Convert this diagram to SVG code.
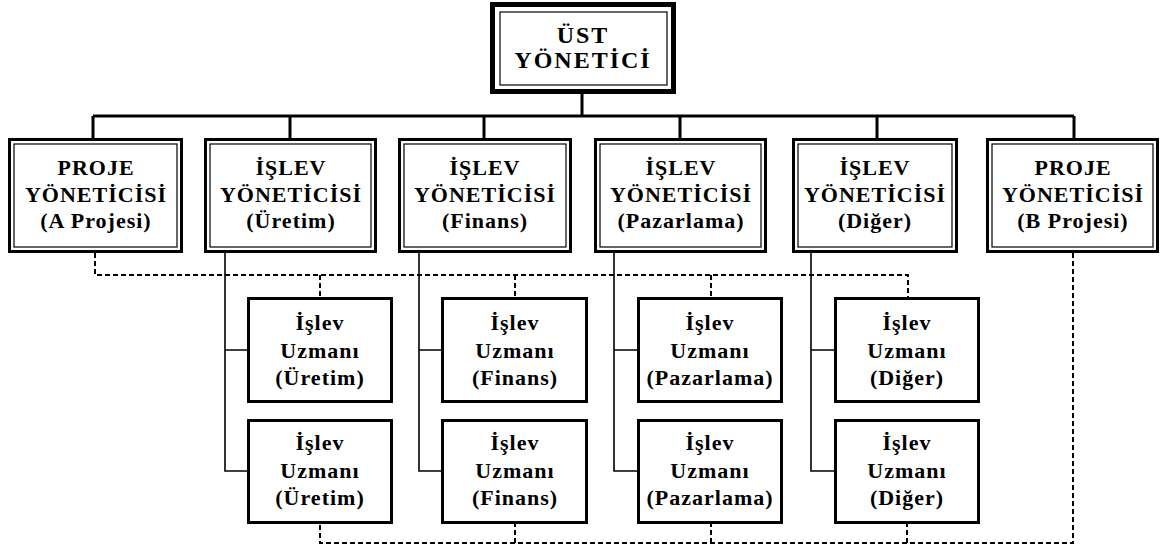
<svg xmlns="http://www.w3.org/2000/svg" width="1170" height="552" viewBox="0 0 1170 552">
<style>
.o{fill:#fff;stroke:#000;stroke-width:3}
.i{fill:none;stroke:#000;stroke-width:1.2}
.u{fill:#fff;stroke:#000;stroke-width:3}
.t{font-family:"Liberation Serif","Times New Roman",serif;font-weight:bold;font-size:22px;letter-spacing:1px;text-anchor:middle;fill:#000}
.tt{font-size:24px;letter-spacing:2px}
.s{fill:none;stroke:#000;stroke-width:3}
.n{fill:none;stroke:#000;stroke-width:1.6}
.d{fill:none;stroke:#000;stroke-width:2;stroke-dasharray:5 3}
</style>
<rect width="1170" height="552" fill="#fff"/>
<g id="connectors">
<path class="s" d="M582 94V116M93 116H1074M93 116V138M290 116V138M484 116V138M680 116V138M877 116V138M1074 116V138"/>
<path class="n" d="M225 253V471H247M225 350H247M419 253V471H441M419 350H441M614 253V471H637M614 350H637M811 253V471H834M811 350H834"/>
<path class="d" d="M95 253V275H908V297M320 275V297M515 275V297M711 275V297"/>
<path class="d" d="M1073 253V543H320V524M515 543V524M711 543V524M907 543V524"/>
</g>
<g id="ust">
<rect x="492.5" y="4.5" width="181" height="87" fill="#fff" stroke="#000" stroke-width="5"/>
<rect x="500" y="12" width="167" height="73" class="i" stroke-width="1.5"/>
<text class="t tt" x="583" y="43">ÜST</text>
<text class="t tt" x="583" y="68">YÖNETİCİ</text>
</g>
<g id="projeA">
<rect class="o" x="9.5" y="139.5" width="172" height="112"/>
<rect class="i" x="14" y="144" width="163" height="103"/>
<text class="t" x="96" y="175">PROJE</text>
<text class="t" x="96" y="202">YÖNETİCİSİ</text>
<text class="t" x="96" y="228">(A Projesi)</text>
</g>
<g id="islevUretim">
<rect class="o" x="205.5" y="139.5" width="170" height="112"/>
<rect class="i" x="210" y="144" width="161" height="103"/>
<text class="t" x="291" y="175">İŞLEV</text>
<text class="t" x="291" y="202">YÖNETİCİSİ</text>
<text class="t" x="291" y="228">(Üretim)</text>
</g>
<g id="islevFinans">
<rect class="o" x="399.5" y="139.5" width="171" height="112"/>
<rect class="i" x="404" y="144" width="162" height="103"/>
<text class="t" x="485" y="175">İŞLEV</text>
<text class="t" x="485" y="202">YÖNETİCİSİ</text>
<text class="t" x="485" y="228">(Finans)</text>
</g>
<g id="islevPazarlama">
<rect class="o" x="595.5" y="139.5" width="170" height="112"/>
<rect class="i" x="600" y="144" width="161" height="103"/>
<text class="t" x="681" y="175">İŞLEV</text>
<text class="t" x="681" y="202">YÖNETİCİSİ</text>
<text class="t" x="681" y="228">(Pazarlama)</text>
</g>
<g id="islevDiger">
<rect class="o" x="793.5" y="139.5" width="163" height="112"/>
<rect class="i" x="798" y="144" width="154" height="103"/>
<text class="t" x="875" y="175">İŞLEV</text>
<text class="t" x="875" y="202">YÖNETİCİSİ</text>
<text class="t" x="875" y="228">(Diğer)</text>
</g>
<g id="projeB">
<rect class="o" x="987.5" y="139.5" width="170" height="112"/>
<rect class="i" x="992" y="144" width="161" height="103"/>
<text class="t" x="1073" y="175">PROJE</text>
<text class="t" x="1073" y="202">YÖNETİCİSİ</text>
<text class="t" x="1073" y="228">(B Projesi)</text>
</g>
<g id="uzmanUretim1">
<rect class="u" x="248.5" y="298.5" width="143" height="103"/>
<text class="t" x="320" y="330">İşlev</text>
<text class="t" x="320" y="358">Uzmanı</text>
<text class="t" x="320" y="385">(Üretim)</text>
</g>
<g id="uzmanUretim2">
<rect class="u" x="248.5" y="420.5" width="143" height="102"/>
<text class="t" x="320" y="450">İşlev</text>
<text class="t" x="320" y="478">Uzmanı</text>
<text class="t" x="320" y="505">(Üretim)</text>
</g>
<g id="uzmanFinans1">
<rect class="u" x="442.5" y="298.5" width="144" height="103"/>
<text class="t" x="515" y="330">İşlev</text>
<text class="t" x="515" y="358">Uzmanı</text>
<text class="t" x="515" y="385">(Finans)</text>
</g>
<g id="uzmanFinans2">
<rect class="u" x="442.5" y="420.5" width="144" height="102"/>
<text class="t" x="515" y="450">İşlev</text>
<text class="t" x="515" y="478">Uzmanı</text>
<text class="t" x="515" y="505">(Finans)</text>
</g>
<g id="uzmanPazarlama1">
<rect class="u" x="638.5" y="298.5" width="143" height="103"/>
<text class="t" x="710" y="330">İşlev</text>
<text class="t" x="710" y="358">Uzmanı</text>
<text class="t" x="710" y="385">(Pazarlama)</text>
</g>
<g id="uzmanPazarlama2">
<rect class="u" x="638.5" y="420.5" width="143" height="102"/>
<text class="t" x="710" y="450">İşlev</text>
<text class="t" x="710" y="478">Uzmanı</text>
<text class="t" x="710" y="505">(Pazarlama)</text>
</g>
<g id="uzmanDiger1">
<rect class="u" x="835.5" y="298.5" width="143" height="103"/>
<text class="t" x="907" y="330">İşlev</text>
<text class="t" x="907" y="358">Uzmanı</text>
<text class="t" x="907" y="385">(Diğer)</text>
</g>
<g id="uzmanDiger2">
<rect class="u" x="835.5" y="420.5" width="143" height="102"/>
<text class="t" x="907" y="450">İşlev</text>
<text class="t" x="907" y="478">Uzmanı</text>
<text class="t" x="907" y="505">(Diğer)</text>
</g>
</svg>
